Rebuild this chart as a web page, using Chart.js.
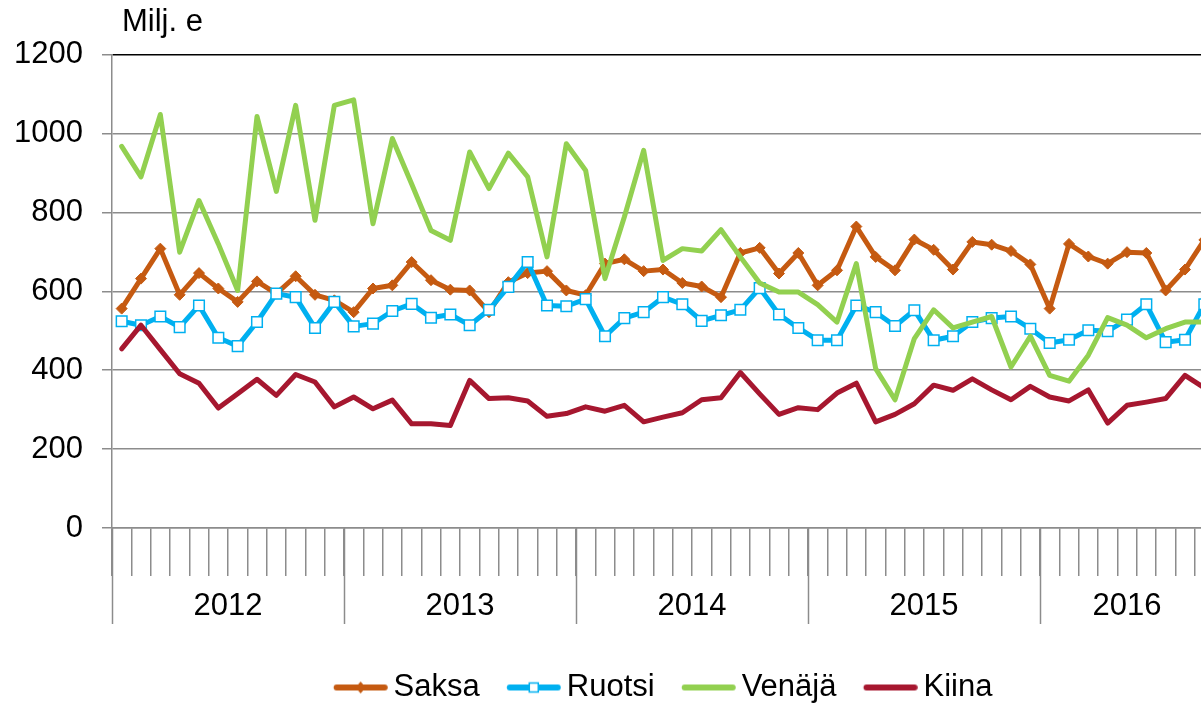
<!DOCTYPE html>
<html>
<head>
<meta charset="utf-8">
<script src="https://cdn.jsdelivr.net/npm/chart.js@4.4.1/dist/chart.umd.min.js"></script>
<style>
  html, body { margin: 0; padding: 0; background: #fff; overflow: hidden; }
  #wrap { width: 1201px; height: 706px; overflow: hidden; position: relative; }
  #box { position: absolute; left: 0; top: 0; width: 1223px; height: 713px; }
</style>
</head>
<body>
<div id="wrap"><div id="box"><canvas id="chart"></canvas></div></div>
<script>
var years = ['2012', '2013', '2014', '2015', '2016'];
var monthsInYear = [12, 12, 12, 12, 9];
var yTicks = [0, 200, 400, 600, 800, 1000, 1200];

var saksa = [556, 632, 708, 591, 646, 607, 573, 625, 594, 638, 591, 577,
             547, 607, 615, 674, 628, 604, 602, 547, 623, 646, 651, 602,
             590, 670, 681, 651, 655, 621, 612, 585, 697, 710, 645, 697,
             615, 653, 764, 687, 653, 731, 705, 655, 725, 718, 702, 668,
             556, 720, 688, 670, 699, 697, 602, 655, 730];
var ruotsi = [524, 514, 536, 509, 564, 482, 461, 522, 594, 585, 507, 573,
              511, 518, 550, 568, 533, 541, 514, 553, 611, 674, 564, 562,
              580, 486, 532, 547, 585, 567, 525, 539, 553, 608, 541, 507,
              476, 476, 564, 547, 512, 552, 476, 486, 522, 532, 536, 505,
              469, 477, 501, 499, 528, 567, 471, 477, 567];
var venaja = [967, 890, 1048, 699, 830, 720, 602, 1043, 853, 1071, 780, 1071,
              1085, 771, 987, 872, 754, 729, 953, 860, 950, 890, 687, 974,
              906, 632, 788, 957, 678, 708, 702, 756, 687, 621, 598, 598,
              566, 522, 670, 404, 325, 480, 553, 507, 522, 536, 408, 486,
              387, 372, 438, 533, 514, 482, 505, 522, 522];
var kiina = [454, 514, 452, 391, 367, 304, 340, 377, 336, 389, 370, 307,
             332, 302, 324, 264, 264, 260, 374, 328, 330, 322, 283, 290,
             307, 296, 311, 269, 281, 292, 325, 330, 394, 340, 288, 305,
             300, 342, 367, 269, 288, 315, 362, 349, 378, 350, 325, 359,
             332, 322, 350, 266, 311, 319, 328, 387, 355];

var fontFamily = "'Liberation Sans', Arial, sans-serif";
var fontSize = 31;
var gridColor = '#8c8c8c';
var colors = { saksa: '#C55A11', ruotsi: '#00B0F0', venaja: '#92D050', kiina: '#A6172F' };

var months = [];
years.forEach(function(y, i) {
  for (var m = 1; m <= monthsInYear[i]; m++) months.push(y + '-' + m);
});

// legend symbols: line with marker; the image is wider than the legend box so the
// line runs closer to the text, like in the original
function legendSymbol(color, marker) {
  var c = document.createElement('canvas');
  c.width = 64; c.height = 14;
  var g = c.getContext('2d');
  var a = 9.75, b = 63.75, mid = (a + b) / 2;
  g.strokeStyle = color; g.lineWidth = 6; g.lineCap = 'round';
  g.beginPath(); g.moveTo(a + 3, 7); g.lineTo(b - 3, 7); g.stroke();
  if (marker === 'diamond') {
    g.fillStyle = color;
    g.beginPath(); g.moveTo(mid, 1); g.lineTo(mid + 5, 7); g.lineTo(mid, 13); g.lineTo(mid - 5, 7); g.closePath(); g.fill();
  } else if (marker === 'square') {
    g.fillStyle = '#fff'; g.fillRect(mid - 4.5, 2.5, 9, 9);
    g.lineWidth = 1.5; g.strokeRect(mid - 4.5, 2.5, 9, 9);
  }
  return c;
}
var symbols = [legendSymbol(colors.saksa, 'diamond'), legendSymbol(colors.ruotsi, 'square'),
               legendSymbol(colors.venaja), legendSymbol(colors.kiina)];

var yearAxis = {
  id: 'yearAxis',
  afterDraw: function(chart) {
    var ctx = chart.ctx, x = chart.scales.x, area = chart.chartArea;
    ctx.save();
    ctx.strokeStyle = gridColor;
    ctx.lineWidth = 1.5;
    ctx.fillStyle = '#000';
    ctx.font = fontSize + 'px ' + fontFamily;
    ctx.textAlign = 'center';
    ctx.textBaseline = 'middle';
    var start = 0;
    for (var i = 0; i <= years.length; i++) {
      var px = Math.round(x.getPixelForValue(start - 0.5)) + 0.5;
      ctx.beginPath(); ctx.moveTo(px, x.top); ctx.lineTo(px, x.top + 96); ctx.stroke();
      if (i < years.length) {
        ctx.fillText(years[i], x.getPixelForValue(start + (monthsInYear[i] - 1) / 2), x.top + 78);
        start += monthsInYear[i];
      }
    }
    ctx.textAlign = 'left';
    ctx.fillText('Milj. e', area.left + 10, 22);
    ctx.restore();
  }
};

var ctx = document.getElementById('chart').getContext('2d');
new Chart(ctx, {
  type: 'line',
  data: {
    labels: months,
    datasets: [
      { label: 'Saksa', data: saksa, order: 4, borderColor: colors.saksa, backgroundColor: colors.saksa,
        borderWidth: 5, pointStyle: 'rectRot', pointRadius: 5.5, pointBorderWidth: 1,
        pointBackgroundColor: colors.saksa, pointBorderColor: colors.saksa },
      { label: 'Ruotsi', data: ruotsi, order: 3, borderColor: colors.ruotsi, backgroundColor: colors.ruotsi,
        borderWidth: 5, pointStyle: 'rect', pointRadius: 7.5, pointBorderWidth: 1.5,
        pointBackgroundColor: '#fff', pointBorderColor: colors.ruotsi },
      { label: 'Venäjä', data: venaja, order: 2, borderColor: colors.venaja, backgroundColor: colors.venaja,
        borderWidth: 5, pointRadius: 0 },
      { label: 'Kiina', data: kiina, order: 1, borderColor: colors.kiina, backgroundColor: colors.kiina,
        borderWidth: 5, pointRadius: 0 }
    ]
  },
  options: {
    responsive: true,
    maintainAspectRatio: false,
    animation: false,
    events: [],
    elements: { line: { tension: 0, borderJoinStyle: 'round', borderCapStyle: 'round' } },
    layout: { padding: { top: 54.5, left: 0, right: 0, bottom: 0 } },
    scales: {
      x: {
        offset: true,
        grid: { offset: true, drawOnChartArea: false, tickLength: 48, color: gridColor, lineWidth: 1.5 },
        border: { display: true, color: gridColor, width: 1.5 },
        ticks: { display: false, autoSkip: false },
        afterFit: function(s) { s.height = 117; }
      },
      y: {
        min: 0, max: 1200,
        afterBuildTicks: function(s) { s.ticks = yTicks.map(function(v) { return { value: v }; }); },
        grid: {
          tickLength: 10, lineWidth: 1.5, tickColor: gridColor,
          color: function(c) { return c.tick && c.tick.value === 1200 ? '#000' : gridColor; }
        },
        border: { display: true, color: gridColor, width: 1.5 },
        ticks: {
          padding: 19, color: '#000', font: { size: fontSize, family: fontFamily },
          callback: function(v) { return String(v); }
        },
        afterFit: function(s) { s.width = 112; }
      }
    },
    plugins: {
      tooltip: { enabled: false },
      legend: {
        position: 'bottom',
        fullSize: false,
        reverse: true,
        labels: {
          usePointStyle: true, pointStyleWidth: 44.5, padding: 27, color: '#000',
          font: { size: fontSize, family: fontFamily },
          generateLabels: function(chart) {
            var items = Chart.defaults.plugins.legend.labels.generateLabels(chart);
            items.forEach(function(it) { it.pointStyle = symbols[it.datasetIndex]; });
            return items;
          }
        }
      }
    }
  },
  plugins: [yearAxis]
});
</script>
</body>
</html>
